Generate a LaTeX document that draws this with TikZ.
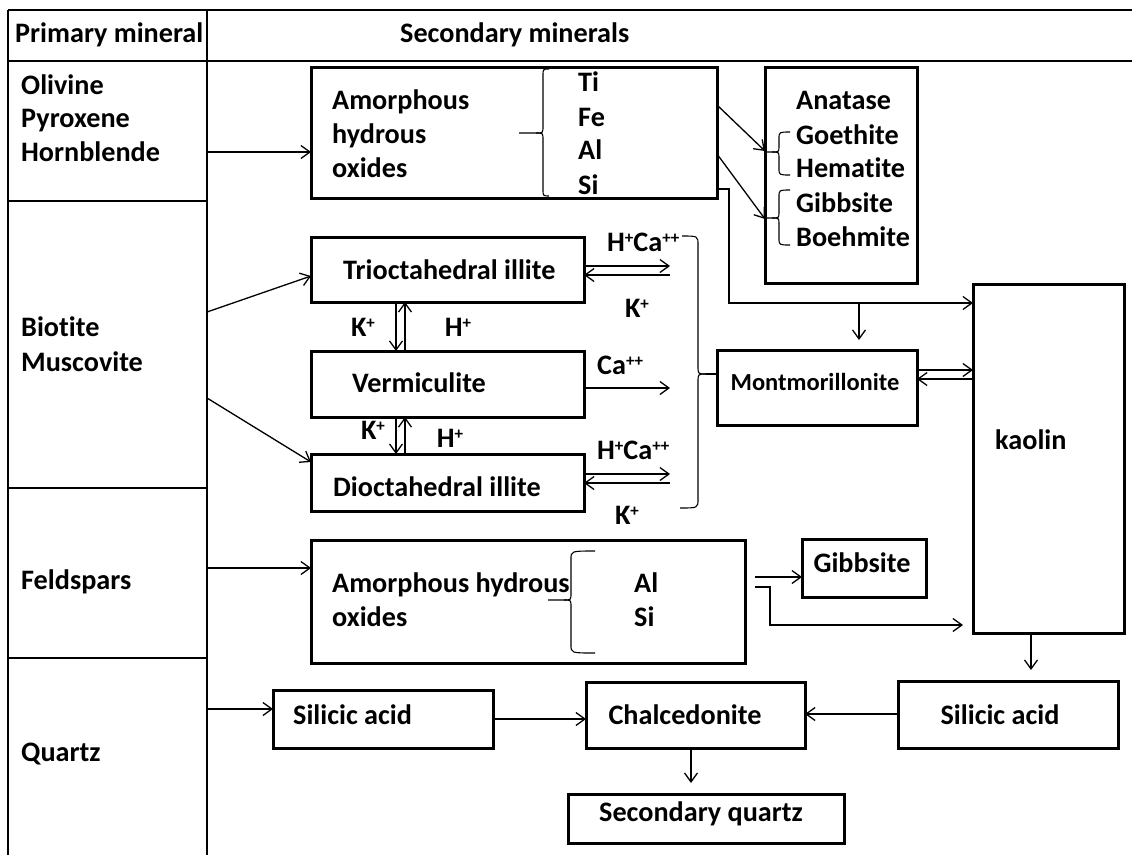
\documentclass[tikz,border=0pt]{standalone}
\usepackage{fontspec}
\setmainfont{Carlito}[Ligatures=CommonOff]
\usetikzlibrary{arrows.meta,fit}
\newcommand\supp[1]{\raisebox{0.55ex}{\fontsize{17}{17}\selectfont #1}}
\begin{document}
\begin{tikzpicture}[x=1pt,y=-1pt,
  font=\fontsize{28.2}{34}\selectfont\bfseries,
  >={Straight Barb[length=9pt,width=13pt]},
  box/.style={draw,line width=3pt,rectangle,inner sep=0pt,outer sep=0pt},
  conn/.style={line width=1.3pt},
  grid/.style={line width=1.5pt},
  brace/.style={line width=1.1pt},
  txt/.style={anchor=base west,inner sep=0pt},
  ctxt/.style={anchor=base,inner sep=0pt}]
\useasboundingbox (0,0) rectangle (1132,855);
% table
\draw[grid] (8,10) -- (1132,10);
\draw[grid] (8,61) -- (1132,61);
\draw[grid] (8,10) -- (8,855);
\draw[grid] (207,10) -- (207,855);
\draw[grid] (8,201) -- (207,201);
\draw[grid] (8,488) -- (207,488);
\draw[grid] (8,658) -- (207,658);
\node[txt] (hPrim) at (15,42) {Primary mineral};
\node[txt] (hSec) at (400,42) {Secondary minerals};
\node[txt] (pOli) at (21,94) {Olivine};
\node[txt] (pPyr) at (21,127) {Pyroxene};
\node[txt] (pHor) at (21,161) {Hornblende};
\node[txt] (pBio) at (21,336) {Biotite};
\node[txt] (pMus) at (21,371) {Muscovite};
\node[txt] (pFel) at (21,589) {Feldspars};
\node[txt] (pQua) at (21,761) {Quartz};
% boxes
\node[box,fit={(311,67)(717,198)}] (aho1) {};
\node[box,fit={(765,67)(917,283)}] (anat) {};
\node[box,fit={(973,284)(1124,633)}] (kaolin) {};
\node[box,fit={(717,350)(917,425)}] (mont) {};
\node[box,fit={(311,237)(584,302)}] (trio) {};
\node[box,fit={(311,351)(584,417)}] (verm) {};
\node[box,fit={(311,454)(584,511)}] (dioc) {};
\node[box,fit={(311,540)(745,663)}] (aho2) {};
\node[box,fit={(802,539)(926,597)}] (gibb) {};
\node[box,fit={(273,690)(493,748)}] (sil1) {};
\node[box,fit={(586,682)(805,748)}] (chal) {};
\node[box,fit={(898,681)(1118,748)}] (sil2) {};
\node[box,fit={(568,794)(844,843)}] (secq) {};
% texts in boxes
\node[txt] (a1) at (332,109) {Amorphous};
\node[txt] (a2) at (332,143) {hydrous};
\node[txt] (a3) at (332,177) {oxides};
\node[txt] (eTi) at (578,91) {Ti};
\node[txt] (eFe) at (578,126) {Fe};
\node[txt] (eAl) at (578,159) {Al};
\node[txt] (eSi) at (578,194) {Si};
\node[txt] (nAna) at (796,109) {Anatase};
\node[txt] (nGoe) at (796,144) {Goethite};
\node[txt] (nHem) at (796,177) {Hematite};
\node[txt] (nGib) at (796,212) {Gibbsite};
\node[txt] (nBoe) at (796,246) {Boehmite};
\node[txt] (tTri) at (343,279) {Trioctahedral illite};
\node[txt] (tVer) at (352,392) {Vermiculite};
\node[txt] (tDio) at (333,496) {Dioctahedral illite};
\node[ctxt] (k1) at (363,336) {K\supp{+}};
\node[ctxt] (h1) at (458,336) {H\supp{+}};
\node[ctxt] (k2) at (373,439) {K\supp{+}};
\node[ctxt] (h2) at (450,447) {H\supp{+}};
\node[txt] (hc1) at (607,251) {H\supp{+}Ca\supp{++}};
\node[ctxt] (k3) at (637,317) {K\supp{+}};
\node[txt] (ca1) at (597,374) {Ca\supp{++}};
\node[txt] (hc2) at (597,459) {H\supp{+}Ca\supp{++}};
\node[ctxt] (k4) at (627,524) {K\supp{+}};
\node[ctxt,font=\fontsize{24.5}{30}\selectfont\bfseries] (tMon) at (815,390) {Montmorillonite};
\node[txt] (tKao) at (995,449) {kaolin};
\node[txt] (b1) at (332,592) {Amorphous hydrous};
\node[txt] (b2) at (332,626) {oxides};
\node[txt] (fAl) at (634,592) {Al};
\node[txt] (fSi) at (634,626) {Si};
\node[ctxt] (tGib) at (862,572) {Gibbsite};
\node[txt] (tSil1) at (293,724) {Silicic acid};
\node[ctxt] (tCha) at (685,724) {Chalcedonite};
\node[ctxt] (tSil2) at (1000,724) {Silicic acid};
\node[ctxt] (tSec) at (701,821) {Secondary quartz};
% braces
\draw[brace] (549,69) .. controls (543,69) .. (543,76) -- (543,126) .. controls (543,133) .. (536,133) -- (519,133);
\draw[brace] (536,133) .. controls (543,133) .. (543,140) -- (543,189) .. controls (543,196) .. (549,196);
\draw[brace] (790,132) .. controls (779,132) .. (779,139) -- (779,146) .. controls (779,152) .. (772,152) -- (765,152);
\draw[brace] (772,152) .. controls (779,152) .. (779,158) -- (779,168) .. controls (779,175) .. (790,175);
\draw[brace] (790,190) .. controls (779,190) .. (779,197) -- (779,212) .. controls (779,218) .. (772,218) -- (765,218);
\draw[brace] (772,218) .. controls (779,218) .. (779,224) -- (779,238) .. controls (779,245) .. (790,245);
\draw[brace] (595,551) .. controls (571,551) .. (571,559) -- (571,593) .. controls (571,600) .. (564,600) -- (548,600);
\draw[brace] (564,600) .. controls (571,600) .. (571,607) -- (571,645) .. controls (571,653) .. (595,653);
\draw[brace] (682,236) .. controls (698,236) .. (698,245) -- (698,366) .. controls (698,374) .. (706,374);
\draw[brace] (706,374) .. controls (698,374) .. (698,382) -- (698,499) .. controls (698,508) .. (680,508);
\draw[brace] (706,374) -- (mont.west |- 0,374);
% start points on the table divider
\coordinate (d1) at (207,152);
\coordinate (d2) at (207,312);
\coordinate (d3) at (207,398);
\coordinate (d4) at (207,568);
\coordinate (d5) at (207,709);
\draw[conn,->] (d1) -- (aho1.west |- d1);
\draw[conn,->] (d2) -- (trio.west |- 0,276);
\draw[conn,->] (d3) -- (dioc.west |- 0,462);
\draw[conn,->] (d4) -- (aho2.west |- d4);
\draw[conn,->] (d5) -- (sil1.west |- d5);
% from aho1
\draw[conn,->] (aho1.east |- 0,105) -- (anat.west |- 0,151);
\draw[conn,->] (aho1.east |- 0,154) -- (anat.west |- 0,219);
\draw[conn,->] (aho1.east |- 0,189) -- (729,189) -- (729,303) -- (kaolin.west |- 0,303);
\coordinate (j1) at (859,303);
\draw[conn,->,shorten >=10pt] (j1) -- (j1 |- mont.north);
\draw[conn,->] (mont.east |- 0,370) -- (kaolin.west |- 0,370);
\draw[conn,->] (kaolin.west |- 0,379) -- (mont.east |- 0,379);
% illite / vermiculite
\coordinate (t1) at (670,266);
\coordinate (t2) at (670,275);
\coordinate (v1) at (670,388);
\coordinate (q1) at (670,474);
\coordinate (q2) at (670,483);
\draw[conn,->] (trio.east |- t1) -- (t1);
\draw[conn,->] (t2) -- (trio.east |- t2);
\draw[conn,->] (verm.east |- v1) -- (v1);
\draw[conn,->] (dioc.east |- q1) -- (q1);
\draw[conn,->] (q2) -- (dioc.east |- q2);
\draw[conn,->] (trio.south -| 396,0) -- (verm.north -| 396,0);
\draw[conn,->] (verm.north -| 405,0) -- (trio.south -| 405,0);
\draw[conn,->] (verm.south -| 396,0) -- (dioc.north -| 396,0);
\draw[conn,->] (dioc.north -| 405,0) -- (verm.south -| 405,0);
% feldspars
\coordinate (g0) at (755,577);
\coordinate (g1) at (755,587);
\draw[conn,->] (g0) -- (gibb.west |- g0);
\draw[conn,->,shorten >=10pt] (g1) -- (770,587) -- (770,625) -- (kaolin.west |- 0,625);
% quartz row
\draw[conn,->,shorten >=11pt] (kaolin.south -| 1031,0) -- (sil2.north -| 1031,0);
\draw[conn,->] (sil1.east |- 0,719) -- (chal.west |- 0,719);
\draw[conn,->] (sil2.west |- 0,714) -- (chal.east |- 0,714);
\draw[conn,->,shorten >=11pt] (chal.south -| 691,0) -- (secq.north -| 691,0);
\end{tikzpicture}
\end{document}
